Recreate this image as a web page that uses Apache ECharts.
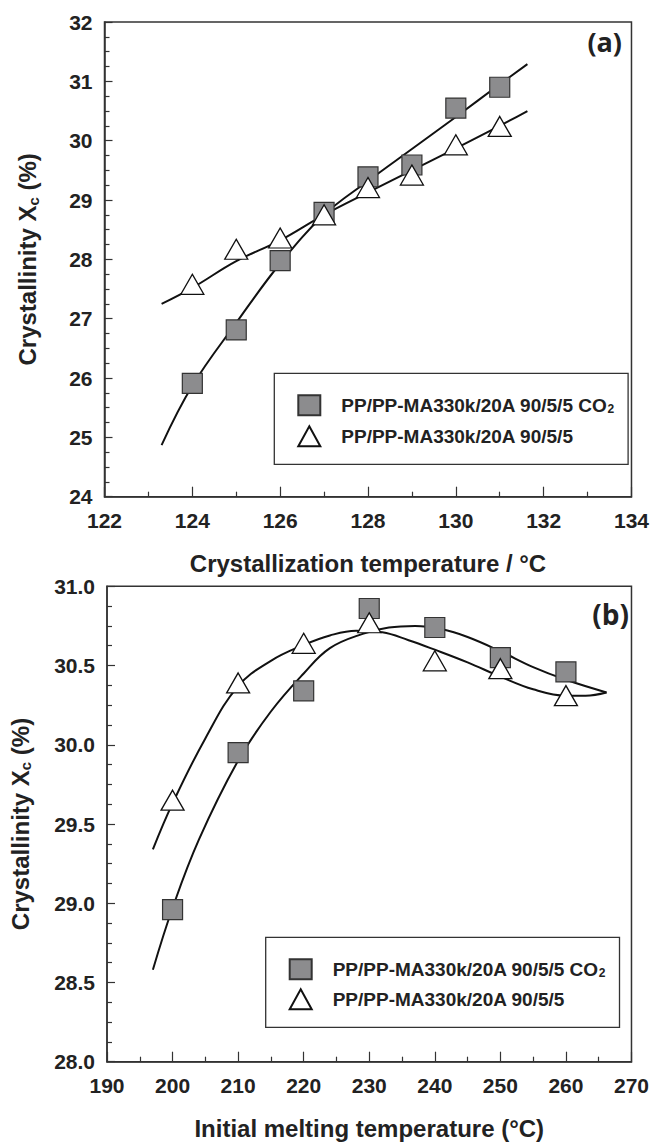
<!DOCTYPE html>
<html>
<head>
<meta charset="utf-8">
<script src="https://cdn.jsdelivr.net/npm/echarts@6/dist/echarts.min.js"></script>
<style>
	html, body { margin: 0; padding: 0; background: #fff; }
	#chart { width: 652px; height: 1144px; }
</style>
</head>
<body>
<div id="chart"></div>
<script>
// panel (a): crystallinity vs crystallization temperature
var tempA = [124, 125, 126, 127, 128, 129, 130, 131]
var co2A = [25.91, 26.81, 27.98, 28.79, 29.39, 29.59, 30.55, 30.9]
var plainA = [27.58, 28.17, 28.36, 28.75, 29.21, 29.42, 29.93, 30.24]
// fitted curves
var fitTempA = [123.3, 124, 125, 126, 127, 128, 129, 130, 131, 131.63]
var fitCo2A = [24.87, 25.87, 26.93, 27.93, 28.75, 29.32, 29.86, 30.4, 30.95, 31.29]
var fitPlainA = [27.25, 27.52, 27.97, 28.32, 28.75, 29.13, 29.5, 29.87, 30.25, 30.5]

// panel (b): crystallinity vs initial melting temperature
var tempB = [200, 210, 220, 230, 240, 250, 260]
var co2B = [28.96, 29.95, 30.34, 30.86, 30.74, 30.55, 30.46]
var plainB = [29.65, 30.39, 30.64, 30.77, 30.53, 30.48, 30.31]
var fitTempCo2B = [197, 200, 204, 210, 215, 220, 224, 229, 233, 237, 241, 245, 250, 255, 260, 266.2]
var fitCo2B = [28.58, 28.97, 29.4, 29.9, 30.21, 30.45, 30.61, 30.7, 30.74, 30.75, 30.73, 30.68, 30.59, 30.49, 30.41, 30.33]
var fitTempPlainB = [197, 200, 205, 210, 215, 220, 224, 228, 232, 236, 240, 245, 250, 255, 260, 263, 266.2]
var fitPlainB = [29.34, 29.63, 30.04, 30.37, 30.53, 30.63, 30.69, 30.72, 30.71, 30.66, 30.6, 30.52, 30.43, 30.35, 30.31, 30.31, 30.33]

var nameCo2 = 'PP/PP-MA330k/20A 90/5/5 CO2'
var namePlain = 'PP/PP-MA330k/20A 90/5/5'

var FONT = 'Liberation Sans, Arial, Helvetica, sans-serif'
var INK = '#222'
var AXIS = '#333'

function zip(xs, ys) {
	var out = []
	for (var i = 0; i < xs.length; i++) out.push([xs[i], ys[i]])
	return out
}

function xAxisFor(gridIndex, min, max, interval, name) {
	return {
		gridIndex: gridIndex,
		type: 'value',
		min: min,
		max: max,
		interval: interval,
		name: name,
		nameLocation: 'middle',
		nameGap: 55,
		nameTextStyle: { fontFamily: FONT, fontSize: 24, fontWeight: 'bold', color: INK },
		axisLine: { show: true, onZero: false, lineStyle: { color: AXIS, width: 1.5 } },
		axisTick: { show: true, inside: true, length: 10, lineStyle: { color: AXIS, width: 1.2 } },
		minorTick: { show: true, splitNumber: 2, length: 5, lineStyle: { color: AXIS, width: 1.2 } },
		axisLabel: { margin: 13, fontFamily: FONT, fontSize: 21, fontWeight: 'bold', color: INK },
		splitLine: { show: false },
	}
}

function yAxisFor(gridIndex, min, max, interval, digits, gap) {
	return {
		gridIndex: gridIndex,
		type: 'value',
		min: min,
		max: max,
		interval: interval,
		name: '{b|Crystallinity X}{s|c}{b| (%)}',
		nameLocation: 'middle',
		nameRotate: 90,
		nameGap: gap,
		nameTextStyle: {
			rich: {
				b: { fontFamily: FONT, fontSize: 24, fontWeight: 'bold', color: INK, lineHeight: 26 },
				s: { fontFamily: FONT, fontSize: 15, fontWeight: 'bold', color: INK, verticalAlign: 'bottom', lineHeight: 15 },
			},
		},
		axisLine: { show: true, onZero: false, lineStyle: { color: AXIS, width: 1.5 } },
		axisTick: { show: true, inside: true, length: 8, lineStyle: { color: AXIS, width: 1.2 } },
		minorTick: { show: true, splitNumber: 4, length: 5, lineStyle: { color: AXIS, width: 1.2 } },
		axisLabel: {
			margin: 12,
			fontFamily: FONT,
			fontSize: 21,
			fontWeight: 'bold',
			color: INK,
			formatter: function (v) { return v.toFixed(digits) },
		},
		splitLine: { show: false },
	}
}

function fitSeries(idx, xs, ys) {
	return {
		type: 'line',
		xAxisIndex: idx,
		yAxisIndex: idx,
		data: zip(xs, ys),
		smooth: 0.4,
		showSymbol: false,
		silent: true,
		lineStyle: { color: '#111', width: 2 },
		z: 2,
	}
}

function squareSeries(idx, xs, ys) {
	return {
		name: nameCo2,
		type: 'scatter',
		xAxisIndex: idx,
		yAxisIndex: idx,
		data: zip(xs, ys),
		symbol: 'rect',
		symbolSize: 20,
		itemStyle: { color: '#8c8c8e', borderColor: '#333', borderWidth: 1.2, opacity: 1 },
		z: 3,
	}
}

function triangleSeries(idx, xs, ys) {
	return {
		name: namePlain,
		type: 'scatter',
		xAxisIndex: idx,
		yAxisIndex: idx,
		data: zip(xs, ys),
		symbol: 'triangle',
		symbolSize: [23, 20],
		itemStyle: { color: '#fff', borderColor: '#111', borderWidth: 1.3, opacity: 1 },
		z: 4,
	}
}

function legendFor(left, top, gap, padding) {
	return {
		orient: 'vertical',
		left: left,
		top: top,
		data: [
			{ name: nameCo2, icon: 'rect' },
			{ name: namePlain, icon: 'triangle' },
		],
		itemWidth: 22,
		itemHeight: 20,
		itemGap: gap,
		padding: padding,
		borderColor: AXIS,
		borderWidth: 1.3,
		borderRadius: 0,
		selectedMode: false,
		formatter: function (name) {
			if (name.slice(-3) === 'CO2') return '{t|' + name.slice(0, -1) + '}{s|2}'
			return '{t|' + name + '}'
		},
		textStyle: {
			padding: [0, 0, 0, 16],
			rich: {
				t: { fontFamily: FONT, fontSize: 19, fontWeight: 'bold', color: INK, lineHeight: 20 },
				s: { fontFamily: FONT, fontSize: 12, fontWeight: 'bold', color: INK, verticalAlign: 'bottom', lineHeight: 10 },
			},
		},
	}
}

var chartDom = document.getElementById('chart')
var myChart = echarts.init(chartDom, null, { renderer: 'svg' })

var option = {
	animation: false,
	backgroundColor: '#fff',
	title: [
		{
			text: '(a)',
			right: 30,
			top: 28,
			padding: 0,
			textStyle: { fontFamily: 'Open Sans, sans-serif', fontSize: 27, fontWeight: 'bold', color: INK },
		},
		{
			text: '(b)',
			right: 23,
			top: 600,
			padding: 0,
			textStyle: { fontFamily: 'Open Sans, sans-serif', fontSize: 28, fontWeight: 'bold', color: INK },
		},
	],
	grid: [
		{ left: 104.5, top: 22, right: 18.5, height: 474.7, show: true, borderColor: AXIS, borderWidth: 1.5, containLabel: false },
		{ left: 104.3, top: 586.3, right: 18.7, height: 475.4, show: true, borderColor: AXIS, borderWidth: 1.5, containLabel: false },
	],
	xAxis: [
		xAxisFor(0, 122, 134, 2, 'Crystallization temperature / °C'),
		xAxisFor(1, 190, 270, 10, 'Initial melting temperature (°C)'),
	],
	yAxis: [
		yAxisFor(0, 24, 32, 1, 0, 64),
		yAxisFor(1, 28, 31, 0.5, 1, 74),
	],
	legend: [
		legendFor(274.3, 373.3, 9, [21, 14, 17, 23]),
		legendFor(265.7, 937.3, 8, [21, 14, 17, 23]),
	],
	series: [
		fitSeries(0, fitTempA, fitCo2A),
		fitSeries(0, fitTempA, fitPlainA),
		squareSeries(0, tempA, co2A),
		triangleSeries(0, tempA, plainA),
		fitSeries(1, fitTempCo2B, fitCo2B),
		fitSeries(1, fitTempPlainB, fitPlainB),
		squareSeries(1, tempB, co2B),
		triangleSeries(1, tempB, plainB),
	],
}

option && myChart.setOption(option)
</script>
</body>
</html>
